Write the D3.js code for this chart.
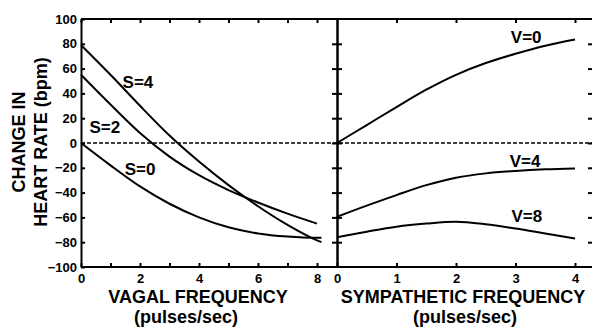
<!DOCTYPE html>
<html>
<head>
<meta charset="utf-8">
<script src="https://cdn.jsdelivr.net/npm/d3@7"></script>
<style>
  body { margin: 0; background: #fff; }
  #vis { width: 592px; height: 331px; }
  text { font-family: "Liberation Sans", Arial, sans-serif; font-weight: bold; fill: #000; }
  .axis text { font-size: 13px; }
  .axis path, .axis line { stroke: #000; stroke-width: 2; }
  .curve { fill: none; stroke: #000; stroke-width: 2; }
</style>
</head>
<body>
<div id="vis"></div>
<script>
// vagal panel (left) : sympathetic stimulation fixed at S
var vagalFreq = [0, 1, 2, 3, 4, 5, 6, 7, 8, 8.15];
var s4 = [79, 55, 30, 6, -15, -34, -51, -66, -78.5, -80];
var s2 = [55, 31, 8, -11, -26, -38, -48, -57, -65, null];
var s0 = [0, -18, -35, -49, -60, -68, -73, -75.5, -76.5, -76.5];

// sympathetic panel (right) : vagal stimulation fixed at V
var sympFreq = [0, 0.5, 1, 1.5, 2, 2.5, 3, 3.5, 4];
var v0 = [0, 14.5, 29, 43, 55, 64.5, 72, 78.5, 83.5];
var v4 = [-59.5, -50.5, -42, -34, -28, -24.5, -22.5, -21.2, -20.5];
var v8 = [-76, -71.5, -67.5, -65, -63.5, -65.5, -69, -73, -77];

var yTicks = [-100, -80, -60, -40, -20, 0, 20, 40, 60, 80, 100];
var vagalTicks = [0, 1, 2, 3, 4, 5, 6, 7, 8];
var sympTicks = [0, 1, 2, 3, 4];

var width = 592, height = 331;

var svg = d3.select('#vis')
    .append('svg')
    .attr('width', width)
    .attr('height', height);

var xV = d3.scaleLinear().domain([0, 8]).range([81, 317]);
var xS = d3.scaleLinear().domain([0, 4]).range([337, 575]);
var y = d3.scaleLinear().domain([-100, 100]).range([267, 19]);

// zero line
svg.append('line')
    .attr('x1', xV(0)).attr('x2', width)
    .attr('y1', y(0)).attr('y2', y(0))
    .attr('stroke', '#000')
    .attr('stroke-width', 1.5)
    .attr('stroke-dasharray', '4,2');

// top frame
svg.append('line')
    .attr('x1', xV(0)).attr('x2', width)
    .attr('y1', y(100)).attr('y2', y(100))
    .attr('stroke', '#000').attr('stroke-width', 2);

svg.append('g').attr('class', 'axis')
    .attr('transform', 'translate(0,' + y(100) + ')')
    .call(d3.axisTop(xV).tickValues(vagalTicks).tickSize(-4).tickSizeOuter(0).tickFormat(''))
    .select('.domain').remove();
svg.append('g').attr('class', 'axis')
    .attr('transform', 'translate(0,' + y(100) + ')')
    .call(d3.axisTop(xS).tickValues(sympTicks.slice(1)).tickSize(-4).tickSizeOuter(0).tickFormat(''))
    .select('.domain').remove();

// bottom axes
svg.append('line')
    .attr('x1', xV(0)).attr('x2', width)
    .attr('y1', y(-100)).attr('y2', y(-100))
    .attr('stroke', '#000').attr('stroke-width', 2);

svg.append('g').attr('class', 'axis')
    .attr('transform', 'translate(0,' + y(-100) + ')')
    .call(d3.axisBottom(xV).tickValues(vagalTicks).tickSize(-4).tickSizeOuter(0).tickPadding(7)
        .tickFormat(function(d) { return d % 2 === 0 ? d : ''; }))
    .select('.domain').remove();
svg.append('g').attr('class', 'axis')
    .attr('transform', 'translate(0,' + y(-100) + ')')
    .call(d3.axisBottom(xS).tickValues(sympTicks).tickSize(-4).tickSizeOuter(0).tickPadding(7)
        .tickFormat(d3.format('d')))
    .select('.domain').remove();

// left y axis
svg.append('g').attr('class', 'axis')
    .attr('transform', 'translate(' + xV(0) + ',0)')
    .call(d3.axisLeft(y).tickValues(yTicks).tickSize(-4).tickSizeOuter(0).tickPadding(4));

// middle axis with crossing ticks
svg.append('g').attr('class', 'axis')
    .attr('transform', 'translate(' + xS(0) + ',0)')
    .call(d3.axisLeft(y).tickValues(yTicks.slice(1, -1)).tickSize(5).tickSizeOuter(0).tickFormat(''));
svg.append('g').attr('class', 'axis')
    .attr('transform', 'translate(' + xS(0) + ',0)')
    .call(d3.axisRight(y).tickValues(yTicks.slice(1, -1)).tickSize(5).tickSizeOuter(0).tickFormat(''));

// right axis (at the picture edge)
svg.append('g').attr('class', 'axis')
    .attr('transform', 'translate(' + (width + 1) + ',0)')
    .call(d3.axisLeft(y).tickValues(yTicks.slice(1, -1)).tickSize(5).tickSizeOuter(0).tickFormat(''));

// curves
var lineV = d3.line()
    .defined(function(d) { return d[1] !== null; })
    .x(function(d) { return xV(d[0]); })
    .y(function(d) { return y(d[1]); })
    .curve(d3.curveMonotoneX);

var lineS = d3.line()
    .x(function(d) { return xS(d[0]); })
    .y(function(d) { return y(d[1]); })
    .curve(d3.curveMonotoneX);

[s4, s2, s0].forEach(function(series) {
    svg.append('path')
        .attr('class', 'curve')
        .attr('d', lineV(d3.zip(vagalFreq, series)));
});

[v0, v4, v8].forEach(function(series) {
    svg.append('path')
        .attr('class', 'curve')
        .attr('d', lineS(d3.zip(sympFreq, series)));
});

// curve labels
var vagalLabels = [
    { text: 'S=4', x: 1.93, y: 44 },
    { text: 'S=2', x: 0.81, y: 8 },
    { text: 'S=0', x: 2.0, y: -26 }
];
var sympLabels = [
    { text: 'V=0', x: 3.18, y: 80.5 },
    { text: 'V=4', x: 3.16, y: -19.5 },
    { text: 'V=8', x: 3.19, y: -63.5 }
];

svg.selectAll('.vlabel')
    .data(vagalLabels)
    .enter()
    .append('text')
    .attr('class', 'vlabel')
    .attr('x', function(d) { return xV(d.x); })
    .attr('y', function(d) { return y(d.y); })
    .attr('text-anchor', 'middle')
    .style('font-size', '17px')
    .text(function(d) { return d.text; });

svg.selectAll('.slabel')
    .data(sympLabels)
    .enter()
    .append('text')
    .attr('class', 'slabel')
    .attr('x', function(d) { return xS(d.x); })
    .attr('y', function(d) { return y(d.y); })
    .attr('text-anchor', 'middle')
    .style('font-size', '17px')
    .text(function(d) { return d.text; });

// axis titles
svg.append('text')
    .attr('transform', 'translate(25,142) rotate(-90)')
    .attr('text-anchor', 'middle')
    .style('font-size', '18px')
    .text('CHANGE IN');
svg.append('text')
    .attr('transform', 'translate(47,142) rotate(-90)')
    .attr('text-anchor', 'middle')
    .style('font-size', '18px')
    .text('HEART RATE (bpm)');

svg.append('text')
    .attr('x', 198).attr('y', 303)
    .attr('text-anchor', 'middle')
    .style('font-size', '18px')
    .text('VAGAL FREQUENCY');
svg.append('text')
    .attr('x', 186).attr('y', 323)
    .attr('text-anchor', 'middle')
    .style('font-size', '18px')
    .text('(pulses/sec)');

svg.append('text')
    .attr('x', 463).attr('y', 303)
    .attr('text-anchor', 'middle')
    .style('font-size', '18px')
    .text('SYMPATHETIC FREQUENCY');
svg.append('text')
    .attr('x', 465).attr('y', 323)
    .attr('text-anchor', 'middle')
    .style('font-size', '18px')
    .text('(pulses/sec)');
</script>
</body>
</html>
